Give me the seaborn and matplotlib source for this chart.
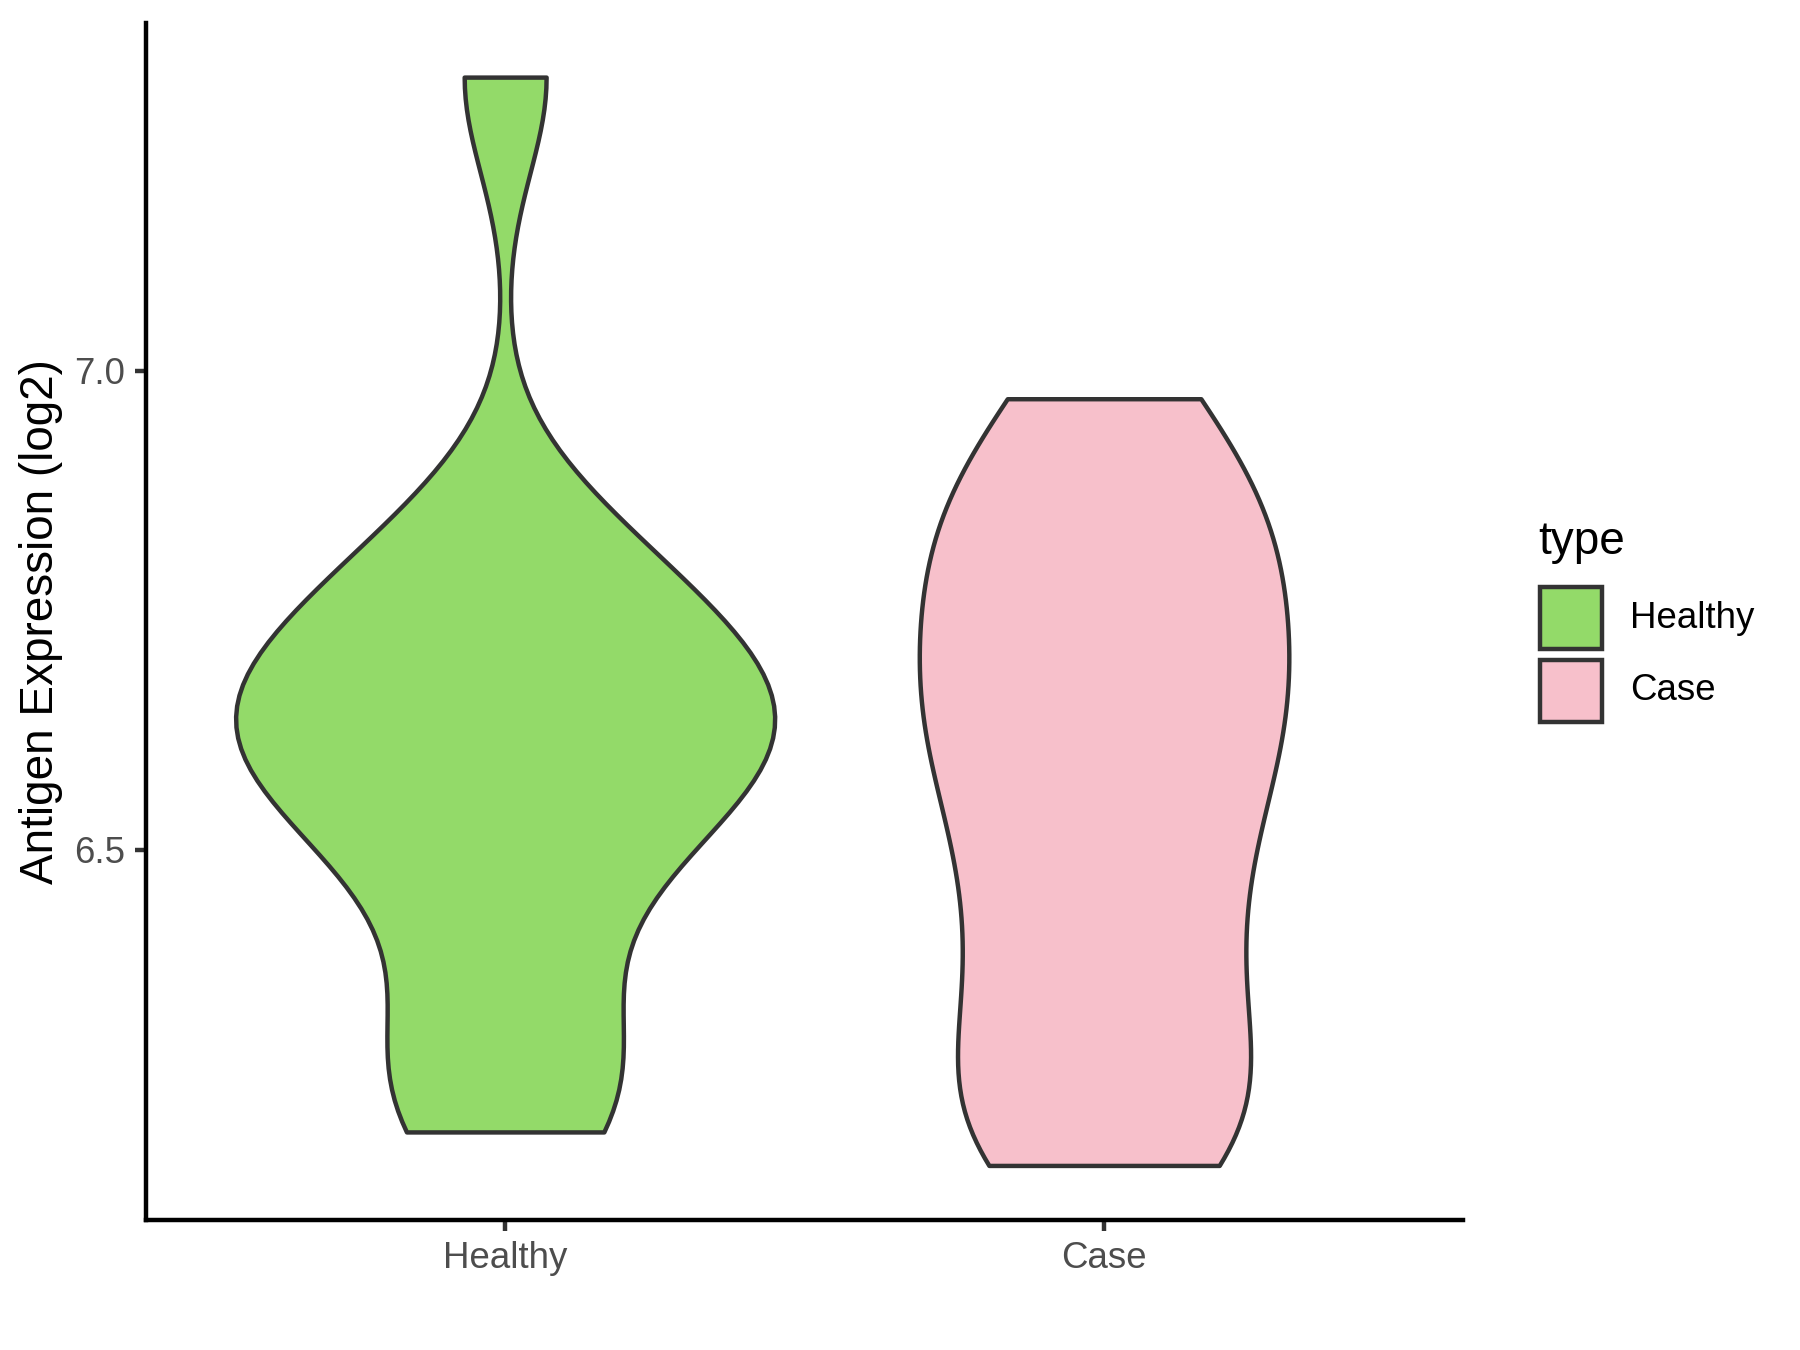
import numpy as np
import pandas as pd
import seaborn as sns
import matplotlib
matplotlib.use("Agg")
import matplotlib.pyplot as plt
from matplotlib.patches import Rectangle

categories = ["Healthy", "Case"]
healthy_values = [6.205, 6.25, 6.33, 6.46, 6.52, 6.57, 6.60, 6.63, 6.65, 6.68,
                  6.72, 6.78, 6.83, 7.307]
case_values = [6.170, 6.22, 6.30, 6.39, 6.48, 6.56, 6.63, 6.68, 6.75, 6.82,
               6.87, 6.971]
colors = ["#93DA69", "#F7C0CB"]
bandwidth = 0.10

df = pd.DataFrame({
    "type": ["Healthy"] * len(healthy_values) + ["Case"] * len(case_values),
    "value": healthy_values + case_values,
})

sns.set_style("white")
plt.rcParams["font.family"] = ["Liberation Sans", "DejaVu Sans"]

fig = plt.figure(figsize=(18, 13.5), dpi=100)
ax = fig.add_axes([0.081, 0.0963, 0.732, 0.887])

sns.violinplot(data=df, x="type", y="value", hue="type", order=categories,
               hue_order=categories, palette=colors, saturation=1, inner=None, cut=0,
               density_norm="area", common_norm=True, width=0.9, linewidth=3.2,
               linecolor="#333333",
               bw_method=lambda k: bandwidth / np.std(k.dataset, ddof=1),
               dodge=False, legend=False, ax=ax)

ax.set_xlim(-0.6, 1.6)
ax.set_ylim(6.113, 7.364)
ax.set_yticks([6.5, 7.0])
ax.set_yticklabels(["6.5", "7.0"])
ax.set_xlabel("")
ax.set_ylabel("Antigen Expression (log2)", fontsize=33, color="black", labelpad=8)
for s in ["top", "right"]:
    ax.spines[s].set_visible(False)
for s in ["left", "bottom"]:
    ax.spines[s].set_linewidth(3.2)
    ax.spines[s].set_color("black")
ax.tick_params(axis="both", direction="out", length=8.25, width=3.2, color="#333333",
               labelsize=26.4, labelcolor="#4D4D4D", pad=6.6, left=True, bottom=True)

# ggplot-style legend on the right
W, H = 1800.0, 1350.0
fig.text(1538 / W, 1 - 542 / H, "type", fontsize=33, color="black",
         ha="left", va="center")
key_tops = [587, 660]
for c, lab, top in zip(colors, categories, key_tops):
    fig.add_artist(Rectangle((1540 / W, 1 - (top + 62) / H), 62 / W, 62 / H,
                             transform=fig.transFigure, facecolor=c,
                             edgecolor="#333333", linewidth=3.2))
    fig.text(1630 / W, 1 - (top + 31) / H, lab, fontsize=26.4, color="black",
             ha="left", va="center")

fig.savefig("out.png", dpi=100)
